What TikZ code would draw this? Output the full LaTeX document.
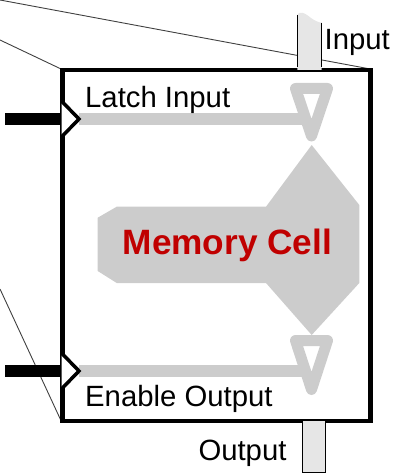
\documentclass[tikz,border=0pt]{standalone}
\usepackage{fontspec}
\setmainfont{Liberation Sans}
\definecolor{cellgrey}{HTML}{CCCCCC}
\definecolor{barfill}{HTML}{E6E6E6}
\definecolor{cellred}{HTML}{C00000}
\definecolor{thinline}{HTML}{404040}
\tikzset{
  lbl/.style={font=\fontsize{29.3}{33}\selectfont, inner sep=0pt, anchor=base west},
  title/.style={font=\fontsize{35.2}{40}\selectfont\bfseries, text=cellred, inner sep=0pt, anchor=base west},
  valve/.style={draw=cellgrey, fill=white, line width=11pt, line join=round},
  wire/.style={draw=cellgrey, line width=12pt},
  ctl/.style={draw=black, line width=12pt},
  notch/.style={draw=black, fill=white, line width=3.5pt, line join=miter},
  thinl/.style={draw=thinline, line width=0.9pt},
  bar/.style={fill=barfill},
  barline/.style={draw=black, line width=0.9pt},
  cellbox/.style={draw=black, line width=3.2pt, inner sep=0pt, minimum width=306.7pt, minimum height=349.3pt, anchor=north west},
}
\begin{document}
\begin{tikzpicture}[x=1pt,y=-1pt]
\useasboundingbox (0,0) rectangle (401,476);
% box (node)
\node[cellbox] (box) at (61.5,69.2) {};
% thin lines from outside
\coordinate (fa) at (0,0);
\coordinate (fb) at (0,40);
\coordinate (fc) at (0,289);
\draw[thinl] (fa) -- (box.north east);
\draw[thinl] (fb) -- (box.north west);
\draw[thinl] (fc) -- (box.south west);
% memory cell shape
\fill[cellgrey] (116.7,206.7) -- (266,206.7) -- (311.7,145) -- (359.3,205) -- (359.3,283)
  -- (311.7,335) -- (266,283) -- (116.7,283) -- (97.7,271) -- (97.7,217.7) -- cycle;
\node[title] (mc) at (122.5,254) {Memory Cell};
% valves
\draw[valve] (295.5,88.5) coordinate (v1a) -- (327.5,88.5) -- (311.5,136) -- cycle;
\draw[valve] (295.5,340.5) coordinate (v2a) -- (327.5,340.5) -- (311.5,389.5) -- cycle;
% wires
\coordinate (t1) at (79,119);
\coordinate (e1) at (305,119);
\coordinate (t2) at (79,371);
\coordinate (e2) at (305,371);
\draw[wire] (t1) -- (e1);
\draw[wire] (t2) -- (e2);
% redraw box border on top
\draw[black, line width=3.2pt] (box.north west) rectangle (box.south east);
% control inputs
\coordinate (c1) at (5,119);
\coordinate (c2) at (5,371);
\draw[ctl] (c1) -- (61.5,119);
\draw[ctl] (c2) -- (61.5,371);
\draw[notch] (61.5,101) -- (t1) -- (61.5,137);
\draw[notch] (61.5,353) -- (t2) -- (61.5,389);
% input bar
\fill[bar] (297.3,70) -- (297.3,15) .. controls (299,11) and (304,12) .. (311,18)
   .. controls (315,21) and (319,22.5) .. (321.7,22.7) -- (321.7,70) -- cycle;
\draw[barline] (297.3,15) -- (297.3,67.5);
\draw[barline] (321.7,22.7) -- (321.7,67.5);
% output bar
\draw[bar, barline] (302,420) rectangle (325,472);
% labels
\node[lbl] (li) at (85,107) {Latch Input};
\node[lbl] (eo) at (85,406) {Enable Output};
\node[lbl] (in) at (324.5,50) {Input};
\node[lbl] (out) at (198.3,460) {Output};
\end{tikzpicture}
\end{document}
